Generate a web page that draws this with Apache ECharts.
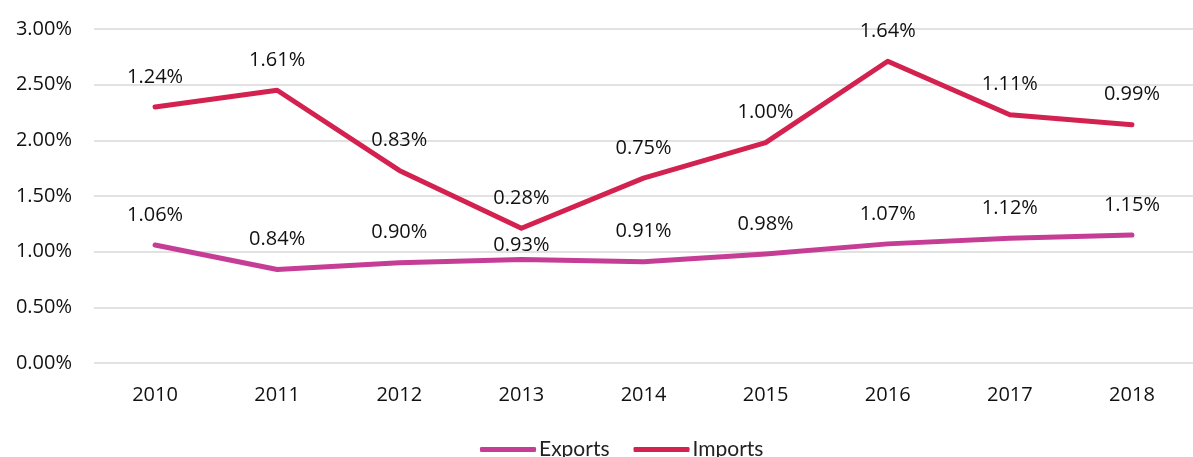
<!DOCTYPE html>
<html>
<head>
<meta charset="utf-8">
<script src="https://cdn.jsdelivr.net/npm/echarts@6/dist/echarts.min.js"></script>
<style>
  html, body { margin: 0; padding: 0; background: #fff; }
  #chart { width: 1193px; height: 457px; }
</style>
</head>
<body>
<div id="chart"></div>
<script>
const years = ["2010", "2011", "2012", "2013", "2014", "2015", "2016", "2017", "2018"];
const exportsPct = [1.06, 0.84, 0.90, 0.93, 0.91, 0.98, 1.07, 1.12, 1.15];
const importsPct = [1.24, 1.61, 0.83, 0.28, 0.75, 1.00, 1.64, 1.11, 0.99];

const font = "'Open Sans', sans-serif";
const pct = v => v.toFixed(2) + "%";

const chart = echarts.init(document.getElementById("chart"));

// 2013 exports label sits lower in the original (close to the line)
const exportsData = exportsPct.map((v, i) => i === 3
  ? { value: v, label: { distance: 4 } }
  : v);

const labelStyle = {
  show: true, position: "top", distance: 20,
  fontSize: 20, color: "#111", fontFamily: font,
  formatter: p => pct(p.value)
};

chart.setOption({
  animation: false,
  textStyle: { fontFamily: font },
  grid: { left: 94, top: 29, width: 1112, bottom: 94 },
  legend: {
    bottom: -8,
    left: 475,
    icon: "roundRect",
    itemWidth: 56,
    itemHeight: 5,
    itemGap: 24,
    textStyle: { fontSize: 21, color: "#222", fontFamily: "Lato, sans-serif", padding: [0, 0, 0, -2] },
    data: ["Exports", "Imports"]
  },
  xAxis: {
    type: "category",
    data: years,
    axisLine: { show: false },
    axisTick: { show: false },
    axisLabel: { fontSize: 20, color: "#111", margin: 22 }
  },
  yAxis: {
    type: "value",
    min: 0,
    max: 3,
    interval: 0.5,
    axisLabel: { fontSize: 20, color: "#111", margin: 22, formatter: pct },
    splitLine: { lineStyle: { color: "#d9d9d9", width: 1.5 } }
  },
  series: [
    {
      name: "Exports",
      type: "line",
      stack: "total",
      data: exportsData,
      symbol: "circle",
      symbolSize: 0.1,
      color: "#C63D96",
      lineStyle: { width: 5, cap: "round", join: "round" },
      label: labelStyle
    },
    {
      name: "Imports",
      type: "line",
      stack: "total",
      data: importsPct,
      symbol: "circle",
      symbolSize: 0.1,
      color: "#D3224F",
      lineStyle: { width: 5, cap: "round", join: "round" },
      label: labelStyle
    }
  ]
});
</script>
</body>
</html>
